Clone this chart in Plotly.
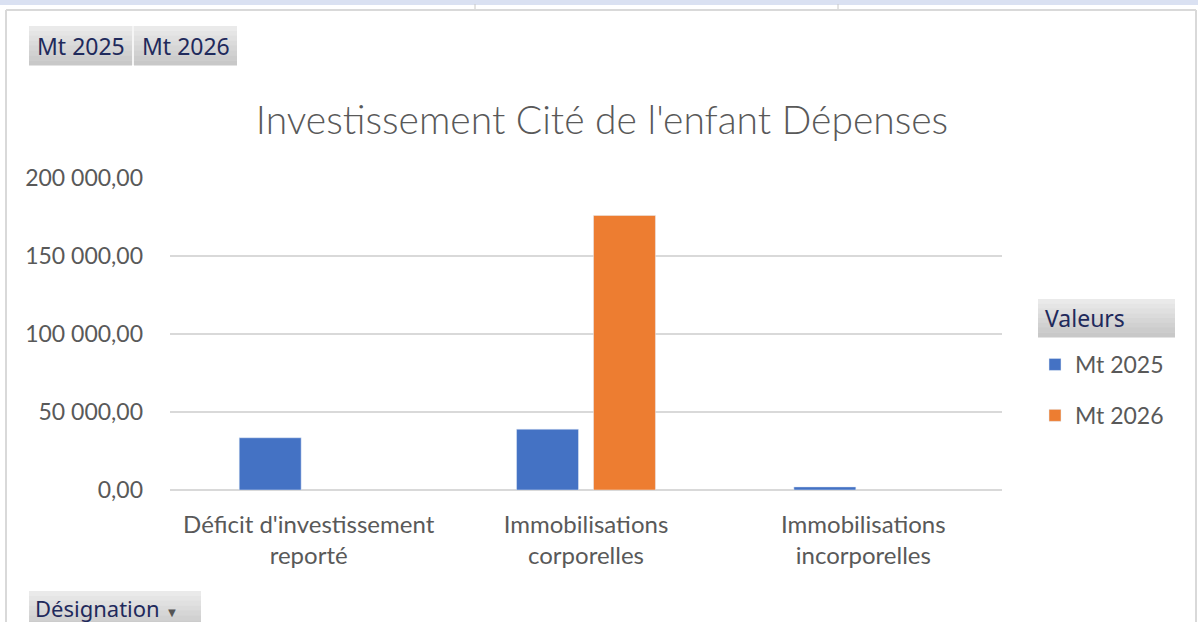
import plotly.graph_objects as go

# Données du tableau croisé dynamique
designations = [
    "Déficit d'investissement<br>reporté",
    "Immobilisations<br>corporelles",
    "Immobilisations<br>incorporelles",
]
mt_2025 = [33500, 39000, 2000]
mt_2026 = [None, 176000, None]
y_ticks = [0, 50000, 100000, 150000, 200000]

W, H = 1198, 622
GRAY_TXT = "#595959"
NAVY = "#1f2a5c"


def px(x):
    return (x - 170) / 832


def py(y):
    return (490 - y) / 312


def button(x0, y0, x1, y1, steps=8):
    # bouton gris façon Excel : dégradé clair -> foncé
    out = []
    h = (y1 - y0) / steps
    for i in range(steps):
        g = int(0xea - (0xea - 0xc8) * i / (steps - 1))
        out.append(dict(type="rect", xref="paper", yref="paper",
                        x0=px(x0), x1=px(x1), y0=py(y0 + (i + 1) * h + 0.5), y1=py(y0 + i * h),
                        fillcolor=f"rgb({g},{g},{g})", line=dict(width=0), layer="below"))
    return out


fig = go.Figure()
fig.add_trace(go.Bar(x=designations, y=mt_2025, name="Mt 2025",
                     marker_color="#4472C4", legendgroup="a"))
fig.add_trace(go.Bar(x=designations, y=mt_2026, name="Mt 2026",
                     marker_color="#ED7D31", legendgroup="b"))

shapes = []
# bandeau de la feuille et cadre du graphique
shapes.append(dict(type="rect", xref="paper", yref="paper", x0=px(0), x1=px(W),
                   y0=py(5), y1=py(0), fillcolor="#dae1f2", line=dict(width=0), layer="below"))
for sx in (475, 838):
    shapes.append(dict(type="line", xref="paper", yref="paper", x0=px(sx), x1=px(sx),
                       y0=py(9), y1=py(4), line=dict(color="#c8c8c8", width=1)))
shapes.append(dict(type="line", xref="paper", yref="paper", x0=px(6), x1=px(1196),
                   y0=py(10), y1=py(10), line=dict(color="#d9d9d9", width=2)))
shapes.append(dict(type="line", xref="paper", yref="paper", x0=px(6), x1=px(6),
                   y0=py(10), y1=py(H), line=dict(color="#d9d9d9", width=2)))
shapes.append(dict(type="line", xref="paper", yref="paper", x0=px(1196), x1=px(1196),
                   y0=py(10), y1=py(H), line=dict(color="#d9d9d9", width=2)))
shapes += button(29, 26, 132, 65)
shapes += button(134, 26, 237, 65)
shapes += button(1038, 299, 1175, 337)
shapes += button(29, 591, 201, 630)
shapes.append(dict(type="line", xref="paper", yref="paper", x0=px(133), x1=px(133),
                   y0=py(65), y1=py(26), line=dict(color="#f2f2f2", width=1.5)))

btn_font = dict(family="Noto Sans", size=23, color=NAVY)
annotations = [
    dict(text="Mt 2025", x=px(80.5), y=py(45.5), xref="paper", yref="paper",
         xanchor="center", yanchor="middle", showarrow=False, font=btn_font),
    dict(text="Mt 2026", x=px(185.5), y=py(45.5), xref="paper", yref="paper",
         xanchor="center", yanchor="middle", showarrow=False, font=btn_font),
    dict(text="Valeurs", x=px(1043), y=py(318), xref="paper", yref="paper",
         xanchor="left", yanchor="middle", showarrow=False, font=btn_font),
    dict(text="Désignation <span style='font-size:13px;color:#555'>▼</span>",
         x=px(33), y=py(608), xref="paper", yref="paper", xanchor="left", yanchor="middle",
         showarrow=False, font=dict(family="Noto Sans", size=22, color=NAVY)),
]

fig.update_layout(
    width=W,
    height=H,
    margin=dict(l=170, r=196, t=178, b=132),
    paper_bgcolor="white",
    plot_bgcolor="white",
    separators=", ",
    barmode="group",
    bargap=0.445,
    bargroupgap=0.195,
    title=dict(text="Investissement Cité de l'enfant Dépenses", x=602 / W, xref="container",
               xanchor="center", y=1 - 120 / H, yanchor="middle",
               font=dict(family="Lato", size=39, weight=300, color=GRAY_TXT)),
    font=dict(family="Lato", color=GRAY_TXT),
    showlegend=True,
    legend=dict(x=px(1035), xanchor="left", y=py(343), yanchor="top",
                font=dict(family="Lato", size=23, color=GRAY_TXT),
                tracegroupgap=18, bgcolor="rgba(0,0,0,0)"),
    shapes=shapes,
    annotations=annotations,
)
fig.update_xaxes(showgrid=False, showline=False, ticks="",
                 tickfont=dict(family="Lato", size=24, color=GRAY_TXT),
                 ticklabelstandoff=18, fixedrange=True)
fig.update_yaxes(range=[0, 200000], tickvals=y_ticks, tickformat=",.2f",
                 showgrid=True, gridcolor="#d9d9d9", gridwidth=1.5,
                 zeroline=True, zerolinecolor="#d9d9d9", zerolinewidth=1.5,
                 showline=False, ticks="", ticklabelstandoff=26,
                 tickfont=dict(family="Lato", size=23, color=GRAY_TXT), fixedrange=True)

fig.write_html("out.html", config={"displayModeBar": False},
               post_script="document.body.style.margin='0';")
